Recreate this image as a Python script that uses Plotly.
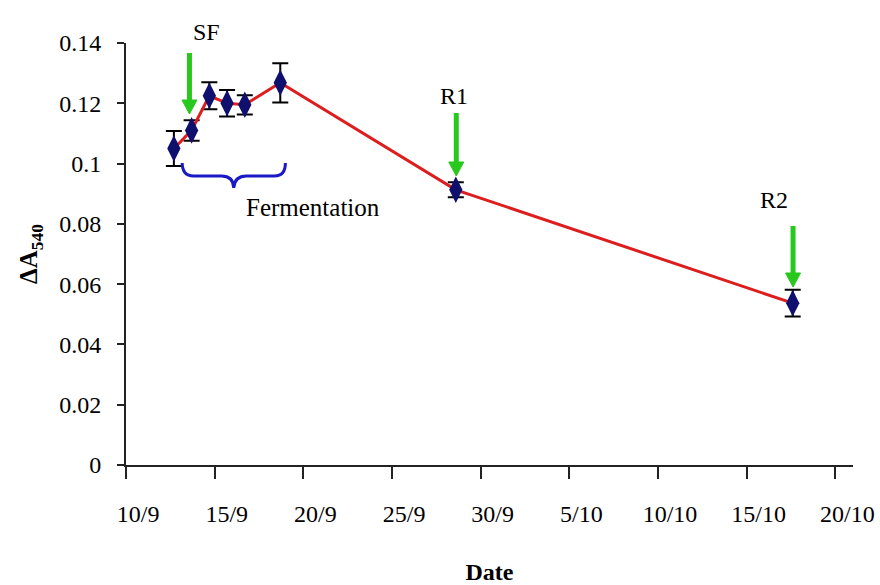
import plotly.graph_objects as go

# ---- data ----
dates = ["2007-09-12 16:48", "2007-09-13 16:48", "2007-09-14 16:48", "2007-09-15 16:48",
         "2007-09-16 16:48", "2007-09-18 16:48", "2007-09-28 14:24", "2007-10-17 14:24"]
values = [0.105, 0.111, 0.1225, 0.120, 0.1195, 0.1268, 0.0913, 0.0537]
errors = [0.0058, 0.0034, 0.0045, 0.0044, 0.0032, 0.0065, 0.0025, 0.0044]
x_tick_vals = ["2007-09-10", "2007-09-15", "2007-09-20", "2007-09-25", "2007-09-30",
               "2007-10-05", "2007-10-10", "2007-10-15", "2007-10-20"]
x_tick_text = ["10/9", "15/9", "20/9", "25/9", "30/9", "5/10", "10/10", "15/10", "20/10"]
y_tick_vals = [0, 0.02, 0.04, 0.06, 0.08, 0.1, 0.12, 0.14]
y_tick_text = ["0", "0.02", "0.04", "0.06", "0.08", "0.1", "0.12", "0.14"]

# event labels
event_labels = ["SF", "R1", "R2"]

FONT = "Liberation Serif"
W, H = 880, 585
L, R, T, B = 125.5, 27, 43, 120
pw, ph = W - L - R, H - T - B

def px(x):
    return (x - L) / pw

def py(y):
    return (H - B - y) / ph

fig = go.Figure()
fig.add_trace(go.Scatter(
    x=dates, y=values, mode="lines+markers",
    line=dict(color="rgb(220,30,30)", width=3),
    marker=dict(symbol="diamond-tall", size=19, color="rgb(15,15,110)"),
    error_y=dict(type="data", array=errors, visible=True, color="black", thickness=2, width=8),
    showlegend=False,
))
# invisible copy on the label axis so that axis is drawn
fig.add_trace(go.Scatter(x=dates, y=values, xaxis="x2", mode="markers",
                         marker=dict(opacity=0), hoverinfo="skip", showlegend=False))

GREEN = "rgb(40,200,30)"
# arrow geometry in pixels: (x, top, tip); label position (x, y)
arrow_px = [(189, 53, 114), (456, 113, 176), (793, 226, 287)]
label_px = [(191, 17), (454, 81), (790, 200)]
head_len, head_half = 14, 7.5
for (ax_, top, tip) in arrow_px:
    fig.add_shape(type="line", xref="paper", yref="paper",
                  x0=px(ax_), x1=px(ax_), y0=py(top), y1=py(tip - head_len + 1),
                  line=dict(color=GREEN, width=5))
    fig.add_shape(type="path", xref="paper", yref="paper",
                  path=(f"M {px(ax_ - head_half):.5f},{py(tip - head_len):.5f} "
                        f"L {px(ax_ + head_half):.5f},{py(tip - head_len):.5f} "
                        f"L {px(ax_):.5f},{py(tip):.5f} Z"),
                  fillcolor=GREEN, line=dict(color=GREEN, width=1))

annotations = []
for lab, (lx, ly) in zip(event_labels, label_px):
    annotations.append(dict(x=px(lx), y=py(ly), xref="paper", yref="paper", text=lab,
                            showarrow=False, font=dict(family=FONT, size=24, color="black")))
annotations.append(dict(x=px(243.5), y=py(207), xref="paper", yref="paper", text="Fermentation",
                        showarrow=False, font=dict(family=FONT, size=25, color="black")))

# curly brace (in pixel space converted to paper)
pts = [("M", 181.7, 163), ("Q", 182, 176, 193, 176), ("L", 221, 176),
       ("Q", 233, 176, 233.3, 188), ("Q", 234, 176, 246, 176), ("L", 274, 176),
       ("Q", 285, 176, 285, 163)]
path = ""
for p in pts:
    cmd = p[0]
    coords = p[1:]
    s = []
    for i in range(0, len(coords), 2):
        s.append(f"{px(coords[i]):.5f},{py(coords[i+1]):.5f}")
    path += cmd + " " + " ".join(s) + " "
fig.add_shape(type="path", path=path.strip(), xref="paper", yref="paper",
              line=dict(color="rgb(25,25,200)", width=3))

fig.update_layout(
    width=W, height=H,
    margin=dict(l=L, r=R, t=T, b=B, autoexpand=False),
    plot_bgcolor="white", paper_bgcolor="white",
    font=dict(family=FONT, size=24, color="black"),
    annotations=annotations,
    xaxis=dict(
        type="date", range=["2007-09-10", "2007-10-21"],
        tickvals=x_tick_vals, showticklabels=False,
        ticks="outside", ticklen=12, tickwidth=2, tickcolor="#222",
        showline=True, linecolor="#222", linewidth=2, showgrid=False, zeroline=False,
        automargin=False,
    ),
    xaxis2=dict(
        type="date", overlaying="x", anchor="y", side="bottom",
        range=["2007-09-09 07:40", "2007-10-20 07:40"],
        tickvals=x_tick_vals, ticktext=x_tick_text,
        ticks="", showline=False, showgrid=False, zeroline=False,
        ticklabelstandoff=32, tickfont=dict(family=FONT, size=24),
        title=dict(text="<b>Date</b>", standoff=38, font=dict(family=FONT, size=24)),
        automargin=False,
    ),
    yaxis=dict(
        range=[0, 0.14], tickvals=y_tick_vals, ticktext=y_tick_text,
        ticks="outside", ticklen=7, tickwidth=2, tickcolor="#222",
        showline=True, linecolor="#222", linewidth=2, showgrid=False, zeroline=False,
        ticklabelstandoff=11, tickfont=dict(family=FONT, size=24),
        title=dict(text="<b>ΔA</b><sub><b>540</b></sub>", standoff=14, font=dict(family=FONT, size=25)),
        automargin=False,
    ),
)

fig.write_html("out.html")
